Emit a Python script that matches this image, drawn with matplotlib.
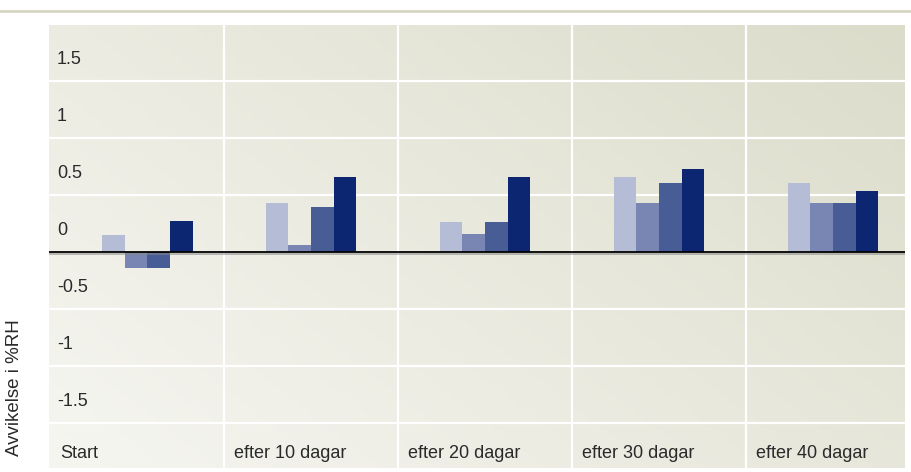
import numpy as np
import matplotlib
matplotlib.use("Agg")
import matplotlib.pyplot as plt
import matplotlib.patheffects as pe
from matplotlib.lines import Line2D
from matplotlib.colors import LinearSegmentedColormap

plt.rcParams["font.family"] = ["Liberation Sans", "DejaVu Sans"]

# Data
categories = ["Start", "efter 10 dagar", "efter 20 dagar", "efter 30 dagar", "efter 40 dagar"]
series_1 = [0.15, 0.43, 0.26, 0.66, 0.60]
series_2 = [-0.14, 0.06, 0.16, 0.43, 0.43]
series_3 = [-0.14, 0.39, 0.26, 0.60, 0.43]
series_4 = [0.27, 0.66, 0.66, 0.73, 0.53]
ytick_values = [1.5, 1, 0.5, 0, -0.5, -1, -1.5]
ytick_labels = ["1.5", "1", "0.5", "0", "-0.5", "-1", "-1.5"]
ylabel = "Avvikelse i %RH"

colors = ["#b5bdd6", "#7986b3", "#485c96", "#0d2672"]
text_color = "#2a2a2a"

W, H = 911, 472
fig = plt.figure(figsize=(W / 100, H / 100), dpi=100)
ax = fig.add_axes([49 / W, 4 / H, (905 - 49) / W, (468 - 25) / H])

xlim = (-0.506, 4.414)
ylim = (-1.895, 1.99)
ax.set_xlim(*xlim)
ax.set_ylim(*ylim)

# diagonal background gradient (light bottom-left -> beige top-right)
gx, gy = np.meshgrid(np.linspace(0, 1, 200), np.linspace(0, 1, 200))
grad = 0.6 * gx + 0.4 * gy
bg = LinearSegmentedColormap.from_list("bg", ["#f6f6f1", "#dcdccb"])
ax.imshow(grad, cmap=bg, origin="lower", aspect="auto",
          extent=[xlim[0], xlim[1], ylim[0], ylim[1]], zorder=0)

# white grid
for v in ytick_values:
    if v != 0:
        ax.axhline(v, color="white", lw=1.6, zorder=1)
for i in range(len(categories) - 1):
    ax.axvline(i + 0.5, color="white", lw=1.6, zorder=1)

# bars
bar_w = 0.13
x = np.arange(len(categories), dtype=float)
x[0] += 0.06  # first group sits a bit right in the original
for k, vals in enumerate([series_1, series_2, series_3, series_4]):
    ax.bar(x + (k - 1.5) * bar_w, vals, bar_w, color=colors[k],
           linewidth=0, zorder=2)

# zero line with soft shadow
ax.axhline(0, color="black", lw=1.3, zorder=3,
           path_effects=[pe.SimpleLineShadow(offset=(0, -1.5), shadow_color="#888888", alpha=0.6),
                         pe.Normal()])

# tick labels drawn inside the plot
fs = 13
trans = ax.get_yaxis_transform()
for v, lab in zip(ytick_values, ytick_labels):
    ax.text(0.0093, v + 0.19, lab, transform=trans, ha="left", va="center",
            fontsize=fs, color=text_color, zorder=4)
for i, lab in enumerate(categories):
    ax.text(i - 0.5 + 0.058, -1.77, lab, ha="left", va="center",
            fontsize=fs, color=text_color, zorder=4)

ax.set_xticks([])
ax.set_yticks([])
for s in ax.spines.values():
    s.set_visible(False)

fig.text(15 / W, 1 - 388 / H, ylabel, rotation=90, ha="center", va="center",
         fontsize=13.5, color=text_color)

# thin beige rule at the top
fig.add_artist(Line2D([0, 1], [1 - 10.5 / H, 1 - 10.5 / H], transform=fig.transFigure,
                      color="#d6d6c3", lw=2))

fig.savefig("out.png", dpi=100)
